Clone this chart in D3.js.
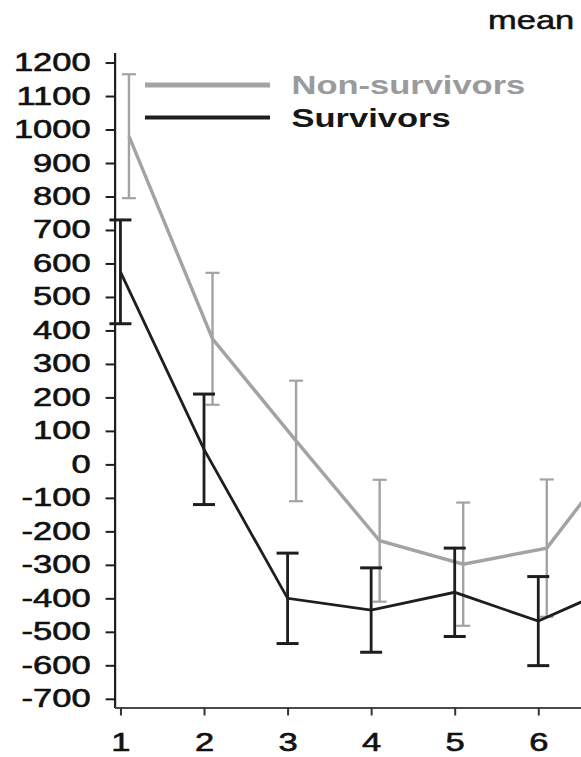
<!DOCTYPE html>
<html>
<head>
<meta charset="utf-8">
<script src="https://cdn.jsdelivr.net/npm/d3@7"></script>
<style>
  html, body { margin: 0; padding: 0; background: #fff; }
  svg { display: block; }
  text { font-family: "Liberation Sans", Arial, Helvetica, sans-serif; }
</style>
</head>
<body>
<svg id="chart" width="581" height="757"></svg>
<script>
// Time points along the x axis
const timePoints = [1, 2, 3, 4, 5, 6, 7];

// Non-survivors: mean and error half-width at each time point
const nonSurvivorsMean = [980, 375, 70, -228, -298, -250, 75];
const nonSurvivorsErr  = [185, 197, 180, 182, 184, 205, 190];

// Survivors: mean and error half-width at each time point
const survivorsMean = [575, 45, -400, -435, -382, -468, -357];
const survivorsErr  = [155, 165, 135, 126, 132, 133, 140];

// Axis tick values
const yTicks = d3.range(-700, 1201, 100);
const xTicks = [1, 2, 3, 4, 5, 6];

const seriesNames = ["Non-survivors", "Survivors"];

const GREY = "#a3a3a3";
const DARK = "#1e1e1e";
const STRETCH = 1.38; // horizontal stretch of all lettering

const svg = d3.select("#chart");

const x = d3.scaleLinear().domain([0.93, 8]).range([114.6, 705.4]);
const y = d3.scaleLinear().domain([-726, 1230]).range([707.5, 52.5]);

const series = [
  { name: seriesNames[0], mean: nonSurvivorsMean, err: nonSurvivorsErr,
    color: GREY, lineW: 3.4, barW: 2.4, capW: 2.2, capHalf: 7, dx: 8.5 },
  { name: seriesNames[1], mean: survivorsMean, err: survivorsErr,
    color: DARK, lineW: 2.8, barW: 2.8, capW: 3, capHalf: 11, dx: 0 }
];

// Plain hyphen for negative labels
const fmt = d => String(d);

// Y axis
const yAxis = svg.append("g")
  .attr("transform", "translate(114.6,0)")
  .call(d3.axisLeft(y).tickValues(yTicks).tickSize(9).tickSizeOuter(0).tickPadding(0).tickFormat(fmt));
yAxis.select(".domain").attr("stroke", DARK).attr("stroke-width", 2.2);
yAxis.selectAll(".tick line").attr("stroke", DARK).attr("stroke-width", 2);
yAxis.selectAll(".tick text")
  .attr("x", -24 / STRETCH)
  .attr("transform", `scale(${STRETCH},1)`)
  .attr("fill", "#111")
  .attr("stroke", "#111")
  .attr("stroke-width", 0.6)
  .style("font-size", "25px");

// X axis
const xAxis = svg.append("g")
  .attr("transform", "translate(0,707.5)")
  .call(d3.axisBottom(x).tickValues(xTicks).tickSize(8).tickSizeOuter(0).tickPadding(18).tickFormat(fmt));
xAxis.select(".domain").attr("stroke", "#4a4a4a").attr("stroke-width", 2.2);
xAxis.selectAll(".tick line").attr("stroke", "#333").attr("stroke-width", 2);
xAxis.selectAll(".tick text")
  .attr("transform", `scale(${STRETCH},1)`)
  .attr("fill", "#111")
  .attr("stroke", "#111")
  .attr("stroke-width", 0.6)
  .style("font-size", "25px");

// Error bars and lines for each group
series.forEach(s => {
  const pts = timePoints.map((t, i) => ({ t, m: s.mean[i], e: s.err[i] }));
  const g = svg.append("g");
  const bars = g.selectAll("g.bar").data(pts).join("g").attr("class", "bar");
  bars.append("line")
    .attr("x1", d => x(d.t) + s.dx).attr("x2", d => x(d.t) + s.dx)
    .attr("y1", d => y(d.m + d.e)).attr("y2", d => y(d.m - d.e))
    .attr("stroke", s.color).attr("stroke-width", s.barW);
  [1, -1].forEach(sign => {
    bars.append("line")
      .attr("x1", d => x(d.t) + s.dx - s.capHalf).attr("x2", d => x(d.t) + s.dx + s.capHalf)
      .attr("y1", d => y(d.m + sign * d.e)).attr("y2", d => y(d.m + sign * d.e))
      .attr("stroke", s.color).attr("stroke-width", s.capW);
  });
  g.append("path")
    .datum(pts)
    .attr("fill", "none")
    .attr("stroke", s.color)
    .attr("stroke-width", s.lineW)
    .attr("stroke-linejoin", "miter")
    .attr("d", d3.line().x(d => x(d.t) + s.dx).y(d => y(d.m)));
});

// Legend
const legend = svg.append("g");
const legendRows = [
  { s: series[0], ly: 85, ty: 93.5, w: 5 },
  { s: series[1], ly: 117.5, ty: 126.5, w: 4 }
];
legendRows.forEach(r => {
  legend.append("line")
    .attr("x1", 145).attr("x2", 270)
    .attr("y1", r.ly).attr("y2", r.ly)
    .attr("stroke", r.s.color).attr("stroke-width", r.w);
  legend.append("text")
    .attr("transform", `translate(291.5,${r.ty}) scale(${STRETCH},1)`)
    .attr("fill", r.s.name === seriesNames[0] ? "#9b9b9b" : "#161616")
    .style("font-size", "25px")
    .style("font-weight", "bold")
    .text(r.s.name);
});

// Heading fragment at the top
svg.append("text")
  .attr("transform", `translate(488,29) scale(${STRETCH},1)`)
  .attr("fill", "#111")
  .attr("stroke", "#111")
  .attr("stroke-width", 0.5)
  .style("font-size", "25px")
  .text("mean");
</script>
</body>
</html>
